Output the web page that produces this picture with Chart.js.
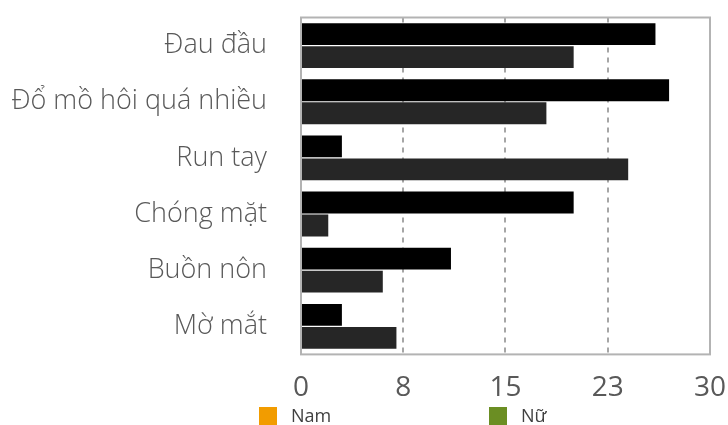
<!DOCTYPE html>
<html>
<head>
<meta charset="utf-8">
<script src="https://cdn.jsdelivr.net/npm/chart.js@4"></script>
<style>
  body { margin: 0; background: #fff; }
  #wrap { position: relative; width: 728px; height: 425px; overflow: hidden; }
  #bar-chart { position: absolute; left: 0; top: 0; }
  #legend { position: absolute; top: 406px; left: 0; width: 728px; height: 19px; font-family: "Open Sans", sans-serif; font-size: 18px; color: #404040; }
  .item { position: absolute; top: 0; display: flex; align-items: center; line-height: 19px; }
  .box { width: 18px; height: 18px; margin-right: 14px; }
</style>
</head>
<body>
<div id="wrap">
  <canvas id="bar-chart" width="728" height="425"></canvas>
  <div id="legend"></div>
</div>
<script>
const categories = ["Đau đầu", "Đổ mồ hôi quá nhiều", "Run tay", "Chóng mặt", "Buồn nôn", "Mờ mắt"];
const seriesNames = ["Nam", "Nữ"];
const namValues = [26, 27, 3, 20, 11, 3];
const nuValues = [20, 18, 24, 2, 6, 7];
const xTicks = [0, 7.5, 15, 22.5, 30];

const barColors = ["#000000", "#262626"];
const legendColors = ["#f29c00", "#6b8e23"];

// box around the plot area
const frame = {
  id: "frame",
  beforeDatasetsDraw(chart) {
    const { ctx, chartArea: a } = chart;
    ctx.save();
    ctx.strokeStyle = "#b3b3b3";
    ctx.lineWidth = 2;
    ctx.strokeRect(a.left, a.top, a.right - a.left, a.bottom - a.top);
    ctx.restore();
  }
};

function loadBarChart() {
  let barChart = document.getElementById("bar-chart");
  barChart = new Chart(barChart, {
    type: "bar",
    data: {
      labels: categories,
      datasets: [
        { label: seriesNames[0], data: namValues, backgroundColor: barColors[0] },
        { label: seriesNames[1], data: nuValues, backgroundColor: barColors[1] },
      ],
    },
    options: {
      indexAxis: "y",
      responsive: false,
      animation: false,
      categoryPercentage: 0.82,
      barPercentage: 0.95,
      layout: { padding: { top: 13, right: 0, bottom: 18, left: 0 } },
      plugins: { legend: { display: false }, tooltip: { enabled: false } },
      scales: {
        x: {
          min: 0,
          max: 30,
          afterBuildTicks: (axis) => { axis.ticks = xTicks.map((v) => ({ value: v })); },
          ticks: {
            callback: (v) => Math.round(v),
            color: "#595959",
            font: { family: "Open Sans", size: 28 },
            padding: 2,
            maxRotation: 0,
          },
          grid: {
            color: (c) => (c.tick && (c.tick.value === 0 || c.tick.value === 30)) ? "rgba(0,0,0,0)" : "#a6a6a6",
            lineWidth: 2,
            drawTicks: true,
            tickLength: 15,
            tickColor: "rgba(0,0,0,0)",
          },
          border: { display: false, dash: [5, 5] },
        },
        y: {
          afterFit: (axis) => { axis.width = 301; },
          ticks: {
            color: "#595959",
            font: { family: "Open Sans", size: 27, weight: 300, lineHeight: 1 },
            padding: 4,
          },
          grid: { drawOnChartArea: false, drawTicks: true, tickLength: 30, tickColor: "rgba(0,0,0,0)", color: "rgba(0,0,0,0)" },
          border: { display: false },
        },
      },
    },
    plugins: [frame],
  });
}

function loadLegend() {
  const legend = document.getElementById("legend");
  const lefts = [259, 489];
  seriesNames.forEach((name, i) => {
    const item = document.createElement("div");
    item.className = "item";
    item.style.left = lefts[i] + "px";
    item.innerHTML = '<span class="box" style="background:' + legendColors[i] + '"></span><span>' + name + "</span>";
    legend.appendChild(item);
  });
}

loadBarChart();
loadLegend();
</script>
</body>
</html>
